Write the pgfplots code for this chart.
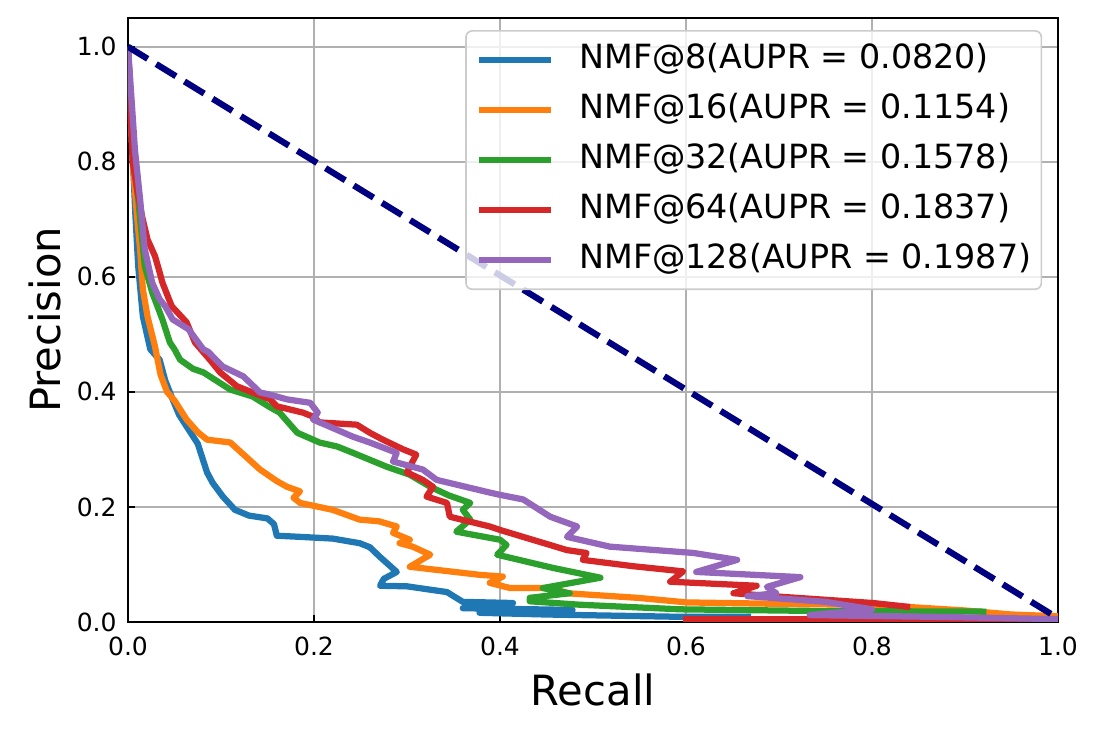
\documentclass[border=0pt]{standalone}
\usepackage{fontspec}
\setmainfont{DejaVu Sans}
\usepackage{pgfplots}
\pgfplotsset{compat=1.18}
\definecolor{tabblue}{HTML}{1F77B4}
\definecolor{taborange}{HTML}{FF7F0E}
\definecolor{tabgreen}{HTML}{2CA02C}
\definecolor{tabred}{HTML}{D62728}
\definecolor{tabpurple}{HTML}{9467BD}
\definecolor{navyc}{HTML}{000080}
\definecolor{gridc}{HTML}{B0B0B0}
\begin{document}
\begin{tikzpicture}
\useasboundingbox (-61.44pt,-54.24pt) rectangle (466.56pt,298.56pt);
\begin{axis}[
  scale only axis, width=446.4pt, height=289.92pt,
  xmin=0, xmax=1, ymin=0, ymax=1.05,
  xtick={0,0.2,0.4,0.6,0.8,1.0},
  ytick={0,0.2,0.4,0.6,0.8,1.0},
  xticklabel={\pgfmathprintnumber[fixed,fixed zerofill,precision=1]{\tick}},
  yticklabel={\pgfmathprintnumber[fixed,fixed zerofill,precision=1]{\tick}},
  /pgf/number format/assume math mode=true,
  tick label style={font=\fontsize{12}{14}\selectfont},
  xticklabel style={anchor=north, inner sep=0pt, yshift=-7.2pt},
  yticklabel style={anchor=east, inner sep=0pt, xshift=-5.3pt},
  tick align=inside, tick pos=left,
  major tick length=3.5pt,
  tick style={black, line width=0.8pt},
  axis line style={line width=0.8pt},
  grid=major, grid style={color=gridc, line width=0.8pt},
  xlabel={Recall}, ylabel={Precision},
  xlabel style={at={(axis description cs:0.5,-0.0845)}, anchor=north, inner sep=0pt, font=\fontsize{20}{24}\selectfont},
  ylabel style={at={(axis description cs:-0.073,0.5)}, anchor=base, inner sep=0pt, font=\fontsize{20}{24}\selectfont},
  legend style={
    at={(rel axis cs:0.983,0.980)}, anchor=north east,
    font=\fontsize{16}{19}\selectfont,
    draw=black!20, line width=0.8pt, rounded corners=3pt,
    fill=white, fill opacity=0.8, text opacity=1, draw opacity=1,
    inner xsep=4.8pt, inner ysep=6pt,
    row sep=8pt, column sep=12pt,
    nodes={inner sep=0pt, text height=12pt, text depth=4pt}
  },
  legend cell align=left,
  legend image code/.code={\draw[#1] (0pt,0pt) -- (34.6pt,0pt);},
  every axis plot/.append style={line width=3pt, line join=round},
]
\addplot[tabblue] coordinates {
(0,1.0) (0.004,0.85) (0.008,0.706) (0.011,0.618) (0.016,0.531) (0.024,0.474)
(0.034,0.456) (0.040,0.42) (0.048,0.387) (0.055,0.36) (0.067,0.33) (0.075,0.31)
(0.085,0.26) (0.091,0.242) (0.102,0.218) (0.115,0.195) (0.13,0.185) (0.15,0.18)
(0.157,0.17) (0.16,0.15) (0.185,0.148) (0.22,0.145) (0.249,0.137) (0.26,0.13)
(0.271,0.113) (0.28,0.1) (0.289,0.087) (0.275,0.075) (0.271,0.063) (0.30,0.062)
(0.343,0.052) (0.36,0.035) (0.414,0.033) (0.36,0.024) (0.478,0.021) (0.378,0.016)
(0.45,0.013) (0.594,0.009) (0.67,0.009)
};
\addlegendentry{NMF@8(AUPR = 0.0820)}
\addplot[taborange] coordinates {
(0,1.0) (0.005,0.8) (0.0097,0.706) (0.013,0.648) (0.016,0.578) (0.021,0.531)
(0.029,0.479) (0.035,0.43) (0.042,0.40) (0.05,0.385) (0.063,0.352) (0.075,0.33)
(0.085,0.317) (0.11,0.312) (0.125,0.29) (0.142,0.265) (0.16,0.245) (0.171,0.235)
(0.185,0.227) (0.178,0.216) (0.185,0.207) (0.22,0.195) (0.249,0.178) (0.27,0.175)
(0.289,0.166) (0.285,0.155) (0.303,0.143) (0.292,0.137) (0.306,0.131) (0.325,0.117)
(0.303,0.096) (0.378,0.082) (0.403,0.079) (0.389,0.068) (0.411,0.059) (0.457,0.059)
(0.472,0.05) (0.548,0.042) (0.601,0.034) (0.723,0.031) (0.80,0.03) (0.9,0.02)
(0.95,0.013) (1.0,0.01)
};
\addlegendentry{NMF@16(AUPR = 0.1154)}
\addplot[tabgreen] coordinates {
(0,1.0) (0.006,0.8) (0.011,0.735) (0.018,0.619) (0.026,0.573) (0.037,0.526)
(0.045,0.486) (0.05,0.474) (0.056,0.456) (0.07,0.44) (0.081,0.434) (0.11,0.404)
(0.134,0.392) (0.153,0.373) (0.163,0.364) (0.182,0.329) (0.206,0.312) (0.225,0.305)
(0.242,0.294) (0.278,0.27) (0.303,0.256) (0.325,0.235) (0.345,0.22) (0.368,0.207)
(0.36,0.195) (0.368,0.178) (0.353,0.157) (0.40,0.143) (0.407,0.134) (0.397,0.117)
(0.457,0.094) (0.508,0.077) (0.446,0.059) (0.475,0.05) (0.432,0.042) (0.432,0.036)
(0.486,0.03) (0.594,0.022) (0.75,0.019) (0.923,0.018)
};
\addlegendentry{NMF@32(AUPR = 0.1578)}
\addplot[tabred] coordinates {
(0,1.0) (0.005,0.8) (0.01,0.75) (0.015,0.706) (0.021,0.665) (0.029,0.636)
(0.034,0.608) (0.037,0.59) (0.047,0.549) (0.063,0.521) (0.072,0.486) (0.088,0.456)
(0.099,0.434) (0.117,0.41) (0.134,0.399) (0.153,0.387) (0.16,0.375) (0.188,0.364)
(0.199,0.357) (0.206,0.347) (0.246,0.343) (0.26,0.329) (0.274,0.317) (0.296,0.30)
(0.31,0.291) (0.306,0.279) (0.30,0.26) (0.317,0.247) (0.328,0.235) (0.321,0.218)
(0.343,0.207) (0.346,0.183) (0.389,0.166) (0.40,0.16) (0.435,0.143) (0.472,0.125)
(0.493,0.12) (0.489,0.108) (0.543,0.097) (0.597,0.088) (0.583,0.07) (0.676,0.063)
(0.651,0.05) (0.701,0.044) (0.801,0.033) (0.841,0.026)
};
\addlegendentry{NMF@64(AUPR = 0.1837)}
\addplot[tabred, forget plot] coordinates {(0.597,0.005) (1.0,0.004)};
\addplot[tabpurple] coordinates {
(0,1.0) (0.0075,0.82) (0.013,0.735) (0.018,0.648) (0.026,0.59) (0.034,0.561)
(0.04,0.549) (0.048,0.526) (0.065,0.509) (0.081,0.474) (0.086,0.47) (0.102,0.444)
(0.124,0.427) (0.142,0.399) (0.153,0.395) (0.171,0.387) (0.196,0.381) (0.204,0.364)
(0.199,0.352) (0.242,0.322) (0.26,0.312) (0.289,0.294) (0.285,0.279) (0.317,0.265)
(0.332,0.247) (0.389,0.225) (0.4,0.221) (0.425,0.213) (0.454,0.183) (0.483,0.166)
(0.472,0.148) (0.518,0.131) (0.608,0.12) (0.655,0.108) (0.611,0.087) (0.723,0.078)
(0.687,0.061) (0.697,0.05) (0.666,0.045) (0.75,0.035) (0.80,0.022) (0.733,0.012)
(0.866,0.009) (1.0,0.005)
};
\addlegendentry{NMF@128(AUPR = 0.1987)}
\addplot[navyc, dash pattern=on 11.1pt off 4.8pt, forget plot] coordinates {(0,1.0) (1.0,0.0065)};
\end{axis}
\end{tikzpicture}
\end{document}
